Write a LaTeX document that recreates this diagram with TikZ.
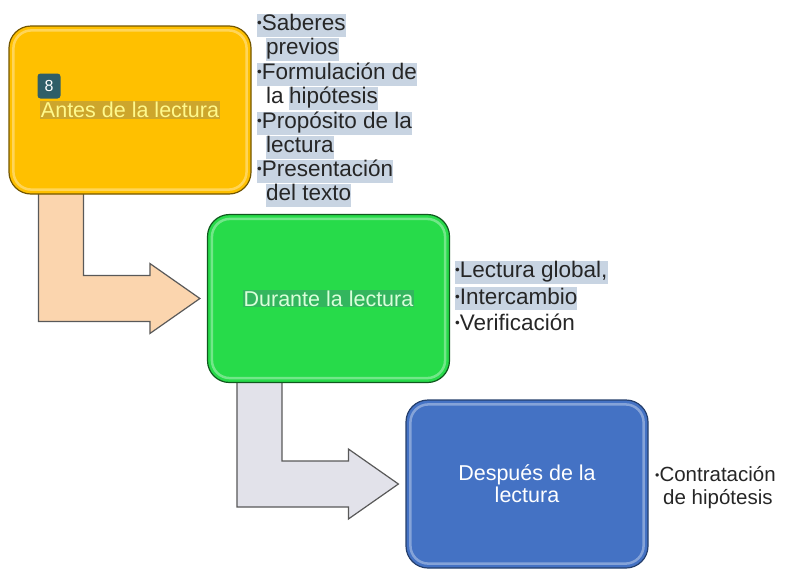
\documentclass[tikz,border=0pt]{standalone}
\usepackage{fontspec}
\setmainfont{Liberation Sans}
\usetikzlibrary{calc,positioning,backgrounds}
\definecolor{amarillo}{HTML}{FFC000}
\definecolor{verde}{HTML}{27DB4A}
\definecolor{azul}{HTML}{4472C4}
\definecolor{durazno}{HTML}{FBD5AE}
\definecolor{gris}{HTML}{E2E2EA}
\definecolor{resalte}{HTML}{C8D4E2}
\definecolor{mostaza}{HTML}{CDA62C}
\definecolor{verdeosc}{HTML}{33B65E}
\definecolor{insignia}{HTML}{2F5E68}
\newcommand\bul{\raisebox{.12em}{\scalebox{.6}{\textbullet}}}

\begin{document}
\begin{tikzpicture}[x=1pt,y=-1pt,
  caja/.style={draw,line width=1.2pt,rounded corners=22pt,minimum width=242pt,minimum height=168pt,inner sep=0pt},
  brillo/.style={white,opacity=.35,line width=2.5pt,rounded corners=18pt},
  flecha/.style={draw=black!65,line width=1.2pt,line join=miter},
  linea/.style={anchor=west,inner sep=0pt,text height=17pt,text depth=6pt,text=black!85,font=\fontsize{22.5}{24}\selectfont},
  resalto/.style={linea,fill=resalte},
  ]
\useasboundingbox (0,0) rectangle (791,568);

% cajas
\node[caja,fill=amarillo,draw=amarillo!45!black] (antes) at (130,110) {};
\node[caja,fill=verde,draw=verde!40!black] (durante) at (328.5,298.5) {};
\node[caja,fill=azul,draw=azul!55!black,text=white,align=center,
  font=\fontsize{21.5}{22}\selectfont] (despues) at (527,484) {Después de la\\lectura};
\foreach \c in {antes,durante,despues}
  \draw[brillo] ($(\c.south west)+(5,-5)$) rectangle ($(\c.north east)+(-5,5)$);

% textos de las cajas
\node[fill=mostaza,text=yellow!45!white,inner sep=1pt,font=\fontsize{21.5}{24}\selectfont] (antestxt) at (antes.center) {Antes de la lectura};
\node[fill=insignia,text=white,rounded corners=3pt,minimum width=23pt,minimum height=25pt,inner sep=0pt,
  font=\fontsize{16}{16}\selectfont] (ocho) at ($(antes.center)+(-81,-24)$) {8};
\node[fill=verdeosc,text=green!15!white,inner sep=1pt,font=\fontsize{21.5}{24}\selectfont] (durantetxt) at (durante.center) {Durante la lectura};

% flechas
\begin{scope}[on background layer]
\draw[flecha,fill=durazno] let \p1=(antes.south west), \p2=(durante.west) in
  (\x1+30pt,\y1+2pt) -- (\x1+75pt,\y1+2pt) -- (\x1+75pt,\y2+23pt) -- (\x2-57pt,\y2+23pt)
  -- (\x2-57pt,\y2+35pt) -- (\x2-7pt,\y2) -- (\x2-57pt,\y2-35pt) -- (\x2-57pt,\y2-23pt)
  -- (\x1+30pt,\y2-23pt) -- cycle;
\draw[flecha,fill=gris] let \p1=(durante.south west), \p2=(despues.west) in
  (\x1+30pt,\y1+2pt) -- (\x1+75pt,\y1+2pt) -- (\x1+75pt,\y2+23pt) -- (\x2-57pt,\y2+23pt)
  -- (\x2-57pt,\y2+35pt) -- (\x2-7pt,\y2) -- (\x2-57pt,\y2-35pt) -- (\x2-57pt,\y2-23pt)
  -- (\x1+30pt,\y2-23pt) -- cycle;
\end{scope}

% antes
\node[resalto] (sab1) at (257,25) {\bul Saberes};
\node[resalto] (sab2) at (266,49) {previos};
\node[resalto] (for1) at (257,74) {\bul Formulación de};
\node[linea] (for2) at (266,98) {la};
\node[resalto,right=5pt of for2] (for3) {hipótesis};
\node[resalto] (pro1) at (257,123) {\bul Propósito de la};
\node[resalto] (pro2) at (266,147) {lectura};
\node[resalto] (pre1) at (257,171) {\bul Presentación};
\node[resalto] (pre2) at (266,195) {del texto};

% durante
\node[resalto] (lec) at (455,272) {\bul Lectura global,};
\node[resalto] (int) at (455,298.5) {\bul Intercambio};
\node[linea] (ver) at (455,325) {\bul Verificación};

% despues
\node[linea,font=\fontsize{20.5}{22}\selectfont] (con1) at (655,476) {\bul Contratación};
\node[linea,font=\fontsize{20.5}{22}\selectfont] (con2) at (663,499) {de hipótesis};
\end{tikzpicture}
\end{document}
